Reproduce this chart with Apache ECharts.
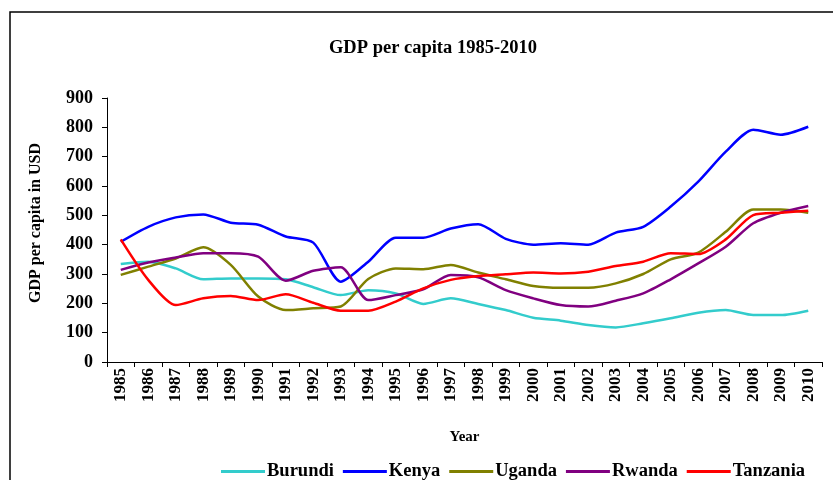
<!DOCTYPE html>
<html>
<head>
<meta charset="utf-8">
<script src="https://cdn.jsdelivr.net/npm/echarts@6/dist/echarts.min.js"></script>
<style>
  html, body { margin: 0; padding: 0; background: #fff; }
  #chart { width: 833px; height: 480px; }
</style>
</head>
<body>
<div id="chart"></div>
<script>
var years = ["1985", "1986", "1987", "1988", "1989", "1990", "1991", "1992", "1993",
  "1994", "1995", "1996", "1997", "1998", "1999", "2000", "2001", "2002", "2003",
  "2004", "2005", "2006", "2007", "2008", "2009", "2010"];

var burundi = [334, 342, 319, 282, 285, 285, 282, 255, 228, 245, 234, 198, 217,
  198, 177, 151, 141, 126, 118, 132, 149, 168, 177, 160, 160, 175];
var kenya = [410, 461, 493, 503, 475, 468, 428, 407, 274, 342, 424, 424, 455,
  470, 420, 400, 405, 400, 441, 461, 530, 615, 717, 792, 775, 802];
var uganda = [297, 325, 353, 391, 331, 223, 177, 183, 189, 283, 319, 316, 331,
  305, 282, 259, 253, 253, 268, 300, 350, 373, 444, 520, 520, 509];
var rwanda = [314, 339, 356, 371, 371, 359, 277, 311, 323, 211, 228, 248, 297,
  289, 245, 217, 194, 189, 209, 234, 282, 336, 393, 473, 509, 532];
var tanzania = [418, 280, 194, 217, 225, 211, 231, 202, 175, 175, 206, 251, 280,
  293, 299, 305, 302, 308, 327, 342, 371, 368, 418, 501, 509, 516];

var font = "'Liberation Serif', 'Times New Roman', serif";

function line(name, data, color) {
  return {
    name: name,
    type: "line",
    data: data,
    smooth: 0.25,
    symbol: "none",
    color: color,
    lineStyle: { width: 2.5, color: color },
  };
}

var chart = echarts.init(document.getElementById("chart"));

var option = {
  animation: false,
  title: {
    text: "GDP per capita 1985-2010",
    left: 428,
    textAlign: "center",
    top: 34,
    textStyle: { fontFamily: font, fontWeight: "bold", fontSize: 18.5, color: "#000" },
  },
  graphic: [
    {
      type: "rect",
      shape: { x: 10, y: 12, width: 900, height: 600 },
      style: { fill: "none", stroke: "#000", lineWidth: 1.5 },
      silent: true,
    },
  ],
  grid: { left: 107, right: 11, top: 98, bottom: 118 },
  legend: {
    left: 216,
    top: 457,
    icon: "rect",
    itemWidth: 44,
    itemHeight: 3,
    itemGap: 9,
    textStyle: { fontFamily: font, fontWeight: "bold", fontSize: 18.5, color: "#000", padding: [0, 0, 0, -3] },
    data: ["Burundi", "Kenya", "Uganda", "Rwanda", "Tanzania"],
  },
  xAxis: {
    type: "category",
    data: years,
    boundaryGap: true,
    name: "Year",
    nameLocation: "middle",
    nameGap: 68,
    nameTextStyle: { fontFamily: font, fontWeight: "bold", fontSize: 15, color: "#000" },
    axisLine: { lineStyle: { color: "#000", width: 1 } },
    axisTick: { show: true, length: 5, lineStyle: { color: "#000" } },
    axisLabel: {
      interval: 0,
      rotate: 90,
      margin: 6,
      fontFamily: font,
      fontWeight: "bold",
      fontSize: 17,
      color: "#000",
    },
  },
  yAxis: {
    type: "value",
    min: 0,
    max: 900,
    interval: 100,
    name: "GDP per capita in USD",
    nameLocation: "middle",
    nameGap: 63,
    nameTextStyle: { fontFamily: font, fontWeight: "bold", fontSize: 16, color: "#000", padding: [0, 0, 0, 14] },
    axisLine: { show: true, lineStyle: { color: "#000", width: 1 } },
    axisTick: { show: true, length: 5, lineStyle: { color: "#000" } },
    splitLine: { show: false },
    axisLabel: { margin: 14, fontFamily: font, fontWeight: "bold", fontSize: 18, color: "#000" },
  },
  series: [
    line("Burundi", burundi, "#33CCCC"),
    line("Kenya", kenya, "#0000FF"),
    line("Uganda", uganda, "#808000"),
    line("Rwanda", rwanda, "#800080"),
    line("Tanzania", tanzania, "#FF0000"),
  ],
};

chart.setOption(option);
</script>
</body>
</html>
